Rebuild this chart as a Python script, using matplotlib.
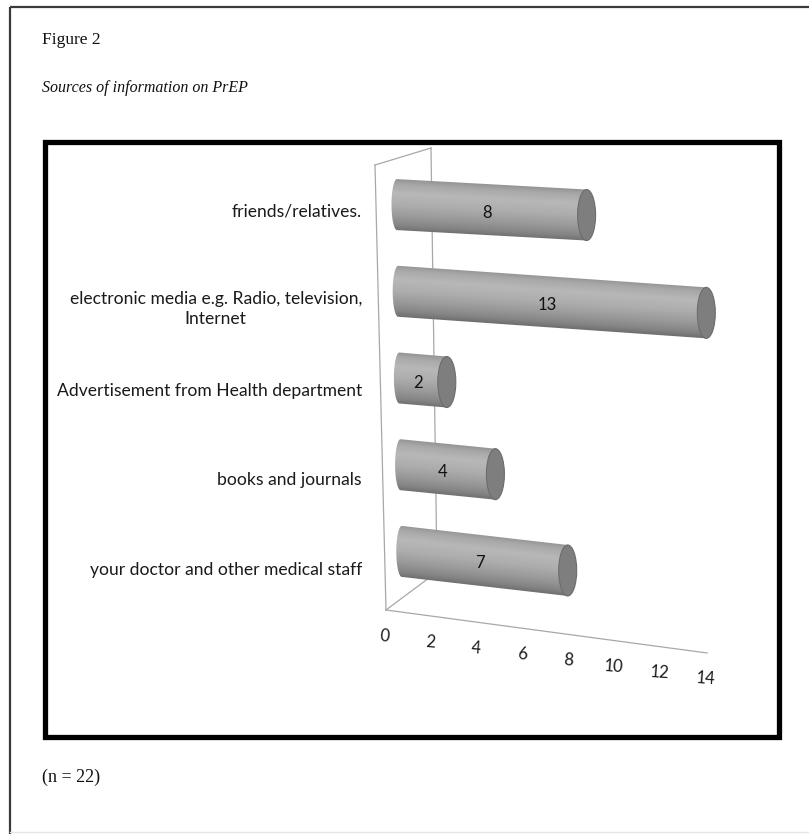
import numpy as np
import matplotlib
matplotlib.use("Agg")
import matplotlib.pyplot as plt
from matplotlib.patches import Ellipse, Rectangle, Polygon

# source categories, listed top to bottom as drawn
categories = [
    "friends/relatives.",
    "electronic media e.g. Radio, television,\nInternet",
    "Advertisement from Health department",
    "books and journals",
    "your doctor and other medical staff",
]
counts = [8, 13, 2, 4, 7]
ticks = [0, 2, 4, 6, 8, 10, 12, 14]

W, H = 809, 834
fig = plt.figure(figsize=(W / 100, H / 100), dpi=100)
ax = fig.add_axes([0, 0, 1, 1])

SANS = ["Lato", "DejaVu Sans"]
SERIF = ["Liberation Serif", "DejaVu Serif"]


# fake 3d projection of the bar chart (pixel space of the page)
def bar_ends(r, v):
    x0 = 397 + 1.2 * r
    y0 = 204.6 + 86.7 * r
    slope = 0.055 + 0.015 * r
    x1 = x0 + 23.7 * v
    y1 = y0 + slope * (x1 - x0)
    return x0, y0, x1, y1, slope


def floor_pt(v):
    return 386 + 22.93 * v, 610 + 3.07 * v


# page frame
ax.plot([10, 10], [7, 834], color="#3a3a3a", lw=1.6, solid_capstyle="butt")
ax.plot([10, 809], [7, 7], color="#3a3a3a", lw=1.6, solid_capstyle="butt")
ax.plot([10, 809], [832, 832], color="#e6e6e6", lw=1.0)

ax.text(42, 40, "Figure 2", family=SERIF, fontsize=12.5, va="center", ha="left", color="#111111")
ax.text(42, 88, "Sources of information on PrEP", family=SERIF, style="italic",
        fontsize=11.5, va="center", ha="left", color="#111111")
ax.text(42, 777, "(n = 22)", family=SERIF, fontsize=13, va="center", ha="left", color="#111111")

# thick chart border
ax.add_patch(Rectangle((45, 142), 734, 595, fill=False, ec="black", lw=3.8, zorder=5))

# back wall and floor lines
wall = "#a8a8a8"
ax.plot([375, 386], [165, 610], color=wall, lw=0.9, zorder=1)
ax.plot([375, 431], [165, 148], color=wall, lw=0.9, zorder=1)
ax.plot([431, 437], [148, 572], color=wall, lw=0.9, zorder=1)
ax.plot([437, 386], [572, 610], color=wall, lw=0.9, zorder=1)
fx0, fy0 = floor_pt(ticks[0])
fx1, fy1 = floor_pt(ticks[-1])
ax.plot([fx0, fx1], [fy0, fy1], color=wall, lw=0.9, zorder=1)

for t in ticks:
    tx, ty = floor_pt(t)
    ax.text(tx - 1.5, ty + 26, str(t), family=SANS, fontsize=12, ha="center", va="center",
            color="#1a1a1a", rotation=-4)

# cylinder shading, t=-1 top edge, t=+1 bottom edge
shade_t = [-1.0, -0.8, -0.45, 0.0, 0.45, 0.8, 1.0]
shade_v = [0.58, 0.66, 0.72, 0.68, 0.60, 0.52, 0.44]

R = 25.5
a_left = 5.5
a_cap = 9.0

for r, v in enumerate(counts):
    x0, y0, x1, y1, slope = bar_ends(r, v)

    # outline of the body: straight sides plus rounded left end
    arc = np.linspace(-np.pi / 2, -3 * np.pi / 2, 40)
    outline = [(x0, y0 - R), (x1, y1 - R), (x1, y1 + R)] + \
              [(x0 + a_left * np.cos(a), y0 - R * np.sin(a)) for a in arc]
    body = Polygon(outline, closed=True, fc="none", ec="none")
    ax.add_patch(body)

    # shaded fill following the tilt of the cylinder
    xmin, xmax = x0 - a_left - 2, x1 + 2
    ymin, ymax = y0 - R - 3, y1 + R + 3
    gx = np.linspace(xmin, xmax, int((xmax - xmin) * 2) + 2)
    gy = np.linspace(ymin, ymax, int((ymax - ymin) * 2) + 2)
    X, Y = np.meshgrid(gx, gy)
    tt = np.clip((Y - (y0 + slope * (X - x0))) / R, -1, 1)
    g = np.interp(tt, shade_t, shade_v)
    img = np.dstack([g, g, g])
    im = ax.imshow(img, extent=(xmin, xmax, ymax, ymin), origin="upper",
                   interpolation="bilinear", aspect="auto", zorder=3)
    im.set_clip_path(body)

    ax.add_patch(Ellipse((x1, y1), 2 * a_cap, 2 * R, fc="#7e7e7e", ec="#6c6c6c", lw=0.8, zorder=4))
    mx = (x0 + x1) / 2 - 5
    my = y0 + slope * (mx - x0) + 3
    ax.text(mx, my, str(v), family=SANS, fontsize=12, ha="center", va="center",
            color="#111111", zorder=6)

# category labels
for r, name in enumerate(categories):
    ly = 211 + 89.75 * r
    if "\n" in name:
        ly += 8
    ax.text(362, ly, name, family=SANS, fontsize=12.6, ha="right", va="center",
            multialignment="center", color="#1a1a1a", linespacing=1.3)

ax.set_xlim(0, W)
ax.set_ylim(H, 0)
ax.axis("off")
plt.savefig("out.png", dpi=100)
